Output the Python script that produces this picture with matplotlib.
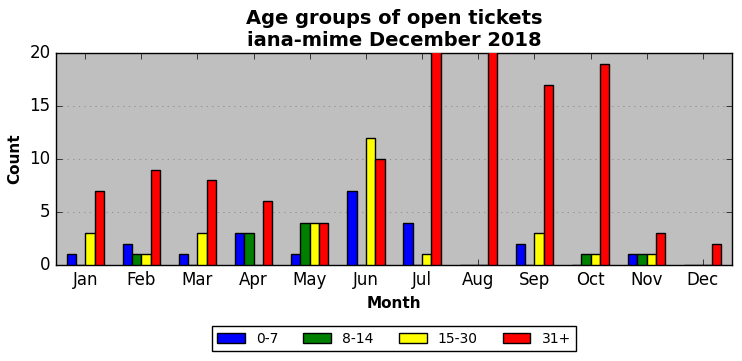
import matplotlib
matplotlib.use('Agg')
from matplotlib import pyplot as plt
import numpy as np

months = ['Jan', 'Feb', 'Mar', 'Apr', 'May', 'Jun', 'Jul', 'Aug', 'Sep', 'Oct', 'Nov', 'Dec']
labels = ['0-7', '8-14', '15-30', '31+']
colors = ['blue', 'green', 'yellow', 'red']

age_0_7 = [1, 2, 1, 3, 1, 7, 4, 0, 2, 0, 1, 0]
age_8_14 = [0, 1, 0, 3, 4, 0, 0, 0, 0, 1, 1, 0]
age_15_30 = [3, 1, 3, 0, 4, 12, 1, 0, 3, 1, 1, 0]
age_31 = [7, 9, 8, 6, 4, 10, 22, 21, 17, 19, 3, 2]
series = [age_0_7, age_8_14, age_15_30, age_31]

plt.style.use('classic')
fig = plt.figure(figsize=(7.42, 3.61), dpi=100, facecolor='white')
ax = fig.add_axes([56/742, 1-265/361, 676/742, 212/361])
ax.set_facecolor('#bfbfbf')

x = np.arange(len(months))
w = 0.166
for i, vals in enumerate(series):
    ax.bar(x + (i-2)*w, vals, w, align='edge', color=colors[i],
           edgecolor='black', linewidth=1, label=labels[i], zorder=3)

ax.set_xlim(-0.52, 11.52)
ax.set_ylim(0, 20)
ax.set_xticks(x)
ax.set_xticklabels(months)
ax.set_yticks([0, 5, 10, 15, 20])
ax.yaxis.grid(True, linestyle=':', color='gray', zorder=0)
ax.set_axisbelow(True)
ax.set_xlabel('Month', fontsize=11, fontweight='bold')
ax.set_ylabel('Count', fontsize=11, fontweight='bold')
ax.set_title('Age groups of open tickets\niana-mime December 2018', fontsize=14, fontweight='bold')
ax.legend(loc='upper center', bbox_to_anchor=(0.5, -0.255), ncol=4, fontsize=10,
          frameon=True, fancybox=False, columnspacing=1.8)

plt.savefig('out.png', dpi=100, facecolor='white')
